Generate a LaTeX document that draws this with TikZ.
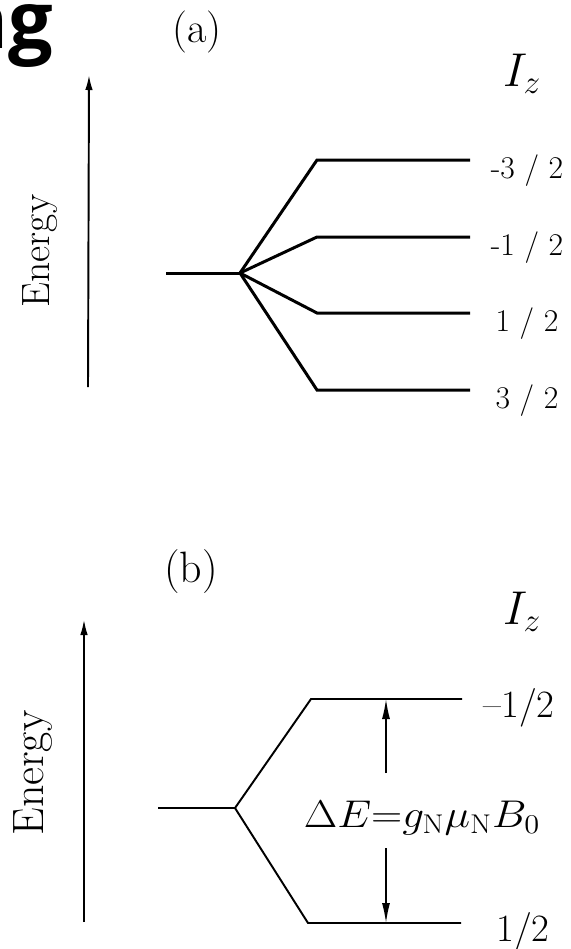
\documentclass[tikz,border=0pt]{standalone}
\usepackage{fix-cm}
\usepackage{fontspec}
\usepackage{graphicx}
\usetikzlibrary{arrows.meta}
\newfontfamily\titlefont{Open Sans}
\newcommand{\ptsize}[1]{\fontsize{#1}{#1}\selectfont}

\begin{document}
\begin{tikzpicture}[
    x=0.2mm, y=-0.2mm,
    lvla/.style={line width=1.7pt},
    lvlb/.style={line width=1.1pt},
    axisa/.style={-{Latex[length=3mm, width=1.5mm]}, line width=1.1pt},
    axisb/.style={-{Latex[length=3mm, width=1.5mm]}, line width=0.8pt},
    gap/.style={-{Latex[length=4mm, width=1.6mm]}, line width=0.8pt},
    lbla/.style={font=\ptsize{18}, inner sep=0pt},
    lblb/.style={font=\ptsize{22}, inner sep=0pt},
    tag/.style={font=\ptsize{24}, inner sep=0pt}]
  \useasboundingbox (0,0) rectangle (571,949);

  % What is left of the slide title, cut at the edge.
  \node[font=\titlefont\bfseries\ptsize{45}, anchor=base east, inner sep=0pt] (title) at (54,48) {ng};

  % (a) four levels out of one.
  \node[tag] (taga) at (197,32) {(a)};
  \node[font=\ptsize{27}, inner sep=0pt] (iza) at (522,74) {$I_z$};
  \coordinate (aE0) at (88,387);
  \coordinate (aE1) at (89,75);
  \draw[axisa] (aE0) -- (aE1);
  \node[rotate=90, font=\ptsize{22.5}, inner sep=0pt] (aen) at (40,251) {Energy};
  \coordinate (a0) at (166,273);
  \coordinate (asplit) at (240,273);
  \draw[lvla] (a0) -- (asplit);
  \foreach \n/\y/\t in {1/160/{-3 / 2}, 2/237/{-1 / 2}, 3/313/{1 / 2}, 4/390/{3 / 2}} {
    \coordinate (as\n) at (317,\y);
    \coordinate (ae\n) at (470,\y);
    \draw[lvla] (asplit) -- (as\n) -- (ae\n);
    \node[lbla] (al\n) at (527,\y+11) {\t};
  }

  % (b) two levels and the gap between them.
  \node[tag, font=\ptsize{25}] (tagb) at (191,572) {(b)};
  \node[font=\ptsize{27}, inner sep=0pt] (izb) at (522,612) {$I_z$};
  \coordinate (bE0) at (84,922);
  \coordinate (bE1) at (84,620);
  \draw[axisb] (bE0) -- (bE1);
  \node[rotate=90, font=\ptsize{25}, inner sep=0pt] (ben) at (33,773) {Energy};
  \coordinate (b0) at (158,808);
  \coordinate (bsplit) at (235,808);
  \draw[lvlb] (b0) -- (bsplit);
  \foreach \n/\y/\xs/\xe/\xl/\t in {1/699/311/462/519/{--1/2}, 2/923/308/461/523/{1/2}} {
    \coordinate (bs\n) at (\xs,\y);
    \coordinate (be\n) at (\xe,\y);
    \draw[lvlb] (bsplit) -- (bs\n) -- (be\n);
    \node[lblb] (bl\n) at (\xl,\y+9) {\t};
  }
  \node[font=\ptsize{22}, inner sep=0pt] (de) at (422,818)
    {\scalebox{1.12}[1]{$\Delta E{=}g_{\mathrm{N}}\mu_{\mathrm{N}}B_0$}};
  \coordinate (up0) at (386,773);
  \coordinate (up1) at (386,699);
  \coordinate (dn0) at (386,848);
  \coordinate (dn1) at (386,923);
  \draw[gap] (up0) -- (up1);
  \draw[gap] (dn0) -- (dn1);
\end{tikzpicture}
\end{document}
